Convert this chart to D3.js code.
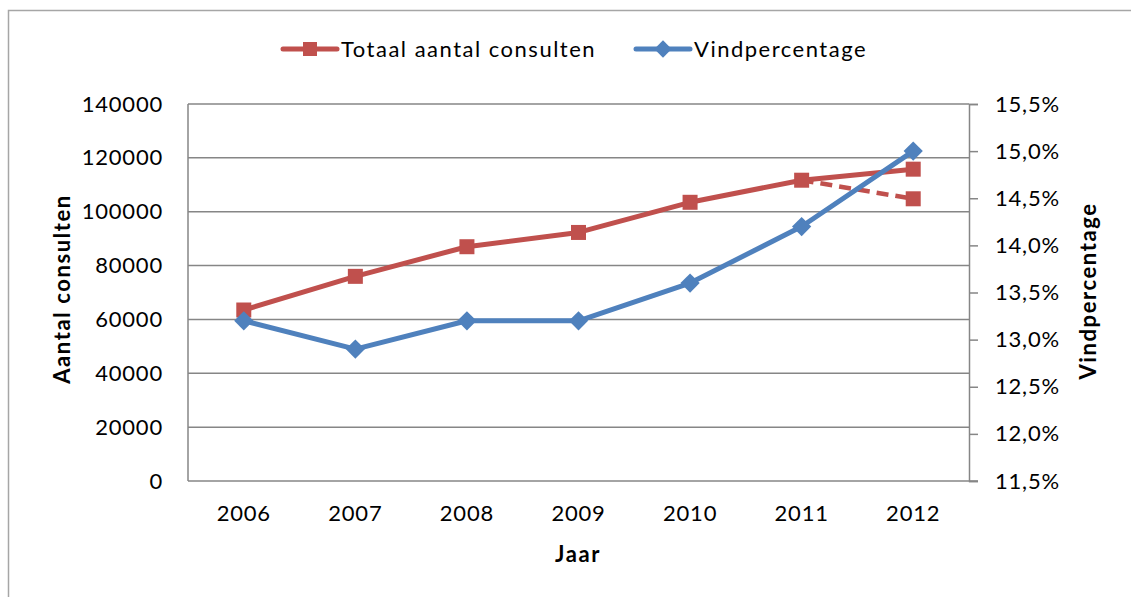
<!DOCTYPE html>
<html>
<head>
<meta charset="utf-8">
<script src="https://cdn.jsdelivr.net/npm/d3@7"></script>
<style>
  body { margin: 0; background: #fff; }
  text { font-family: Lato, "Open Sans", sans-serif; fill: #000; }
</style>
</head>
<body>
<div id="chart"></div>
<script>
// data
const years = ["2006", "2007", "2008", "2009", "2010", "2011", "2012"];
const consulten = [63500, 76000, 87000, 92300, 103500, 111700, 115800];
const consultenAlt = [null, null, null, null, null, 111700, 104800]; // dashed branch 2011 -> 2012
const vindpct = [13.2, 12.9, 13.2, 13.2, 13.6, 14.2, 15.0];
const leftTicks = [0, 20000, 40000, 60000, 80000, 100000, 120000, 140000];
const rightTicks = [11.5, 12.0, 12.5, 13.0, 13.5, 14.0, 14.5, 15.0, 15.5];

const width = 1131, height = 597;
const red = "#C0504D", blue = "#4F81BD", grid = "#868686";
const plot = { left: 188, right: 969, top: 104, bottom: 481 };

const svg = d3.select("#chart").append("svg")
  .attr("width", width).attr("height", height);

// outer chart frame
svg.append("path")
  .attr("d", `M8.5,${height} V10.5 H${width}`)
  .attr("fill", "none").attr("stroke", "#a6a6a6").attr("stroke-width", 1.5);

const x = d3.scaleBand().domain(years).range([plot.left, plot.right]);
const yL = d3.scaleLinear().domain([0, 140000]).range([plot.bottom, plot.top]);
const yR = d3.scaleLinear().domain([11.5, 15.5]).range([plot.bottom, plot.top]);

// gridlines
svg.append("g").selectAll("line").data(leftTicks.slice(1)).join("line")
  .attr("x1", plot.left).attr("x2", plot.right)
  .attr("y1", d => yL(d)).attr("y2", d => yL(d))
  .attr("stroke", grid).attr("stroke-width", 1.5);

// axes
const axisLeft = svg.append("g").attr("transform", `translate(${plot.left},0)`)
  .call(d3.axisLeft(yL).tickValues(leftTicks).tickSize(0).tickPadding(25).tickFormat(d3.format("d")));
const axisRight = svg.append("g").attr("transform", `translate(${plot.right},0)`)
  .call(d3.axisRight(yR).tickValues(rightTicks).tickSize(9).tickPadding(17)
    .tickFormat(d => d3.format(".1f")(d).replace(".", ",") + "%"));
const axisBottom = svg.append("g").attr("transform", `translate(0,${plot.bottom})`)
  .call(d3.axisBottom(x).tickSize(0).tickPadding(24));

[axisLeft, axisRight, axisBottom].forEach(g => {
  g.select(".domain").attr("stroke", grid).attr("stroke-width", 1.5);
  g.selectAll(".tick line").attr("stroke", grid).attr("stroke-width", 1.5);
  g.selectAll(".tick text").style("font-size", "22px").style("letter-spacing", "0.8px")
    .attr("fill", "#000").style("font-family", "Lato, sans-serif");
});
axisLeft.select(".domain").attr("d", `M0,${plot.top}V${plot.bottom}`);
axisBottom.select(".domain").attr("d", `M${plot.left},0H${plot.right + 9}`);

// axis titles
const title = sel => sel.attr("text-anchor", "middle").style("font-size", "22px")
  .style("font-weight", "bold").style("letter-spacing", "1.6px");
svg.append("text").attr("transform", "translate(70,289) rotate(-90)")
  .call(title).text("Aantal consulten");
svg.append("text").attr("transform", "translate(1096,291) rotate(-90)")
  .call(title).text("Vindpercentage");
svg.append("text").attr("x", 578).attr("y", 562)
  .call(title).text("Jaar");

const cx = d => x(d) + x.bandwidth() / 2;

// dashed red branch
const altPts = years.map((yr, i) => [yr, consultenAlt[i]]).filter(d => d[1] != null);
svg.append("path").datum(altPts)
  .attr("d", d3.line().x(d => cx(d[0])).y(d => yL(d[1])))
  .attr("fill", "none").attr("stroke", red).attr("stroke-width", 4.5)
  .attr("stroke-dasharray", "12,7");
svg.append("g").selectAll("rect").data(altPts.slice(1)).join("rect")
  .attr("x", d => cx(d[0]) - 7.5).attr("y", d => yL(d[1]) - 7.5)
  .attr("width", 15).attr("height", 15).attr("fill", red);

// red line
const redPts = years.map((yr, i) => [yr, consulten[i]]);
svg.append("path").datum(redPts)
  .attr("d", d3.line().x(d => cx(d[0])).y(d => yL(d[1])))
  .attr("fill", "none").attr("stroke", red).attr("stroke-width", 5).attr("stroke-linejoin", "round");
svg.append("g").selectAll("rect").data(redPts).join("rect")
  .attr("x", d => cx(d[0]) - 7.5).attr("y", d => yL(d[1]) - 7.5)
  .attr("width", 15).attr("height", 15).attr("fill", red);

// blue line
const bluePts = years.map((yr, i) => [yr, vindpct[i]]);
svg.append("path").datum(bluePts)
  .attr("d", d3.line().x(d => cx(d[0])).y(d => yR(d[1])))
  .attr("fill", "none").attr("stroke", blue).attr("stroke-width", 5).attr("stroke-linejoin", "round");
svg.append("g").selectAll("path").data(bluePts).join("path")
  .attr("transform", d => `translate(${cx(d[0])},${yR(d[1])}) rotate(45)`)
  .attr("d", d3.symbol().type(d3.symbolSquare).size(185)).attr("fill", blue);

// legend
const legend = [
  { label: "Totaal aantal consulten", color: red, shape: "square", x: 283 },
  { label: "Vindpercentage", color: blue, shape: "diamond", x: 636 }
];
const lg = svg.append("g").selectAll("g").data(legend).join("g")
  .attr("transform", d => `translate(${d.x},49)`);
lg.append("line").attr("x1", 0).attr("x2", 54).attr("y1", 0).attr("y2", 0)
  .attr("stroke", d => d.color).attr("stroke-width", 5).attr("stroke-linecap", "round");
lg.append("path")
  .attr("transform", d => d.shape === "diamond" ? "translate(27,0) rotate(45)" : "translate(27,0)")
  .attr("d", d => d3.symbol().type(d3.symbolSquare).size(d.shape === "diamond" ? 150 : 196)())
  .attr("fill", d => d.color);
lg.append("text").attr("x", 58).attr("y", 8).style("font-size", "22px")
  .style("letter-spacing", "1.5px").text(d => d.label);
</script>
</body>
</html>
